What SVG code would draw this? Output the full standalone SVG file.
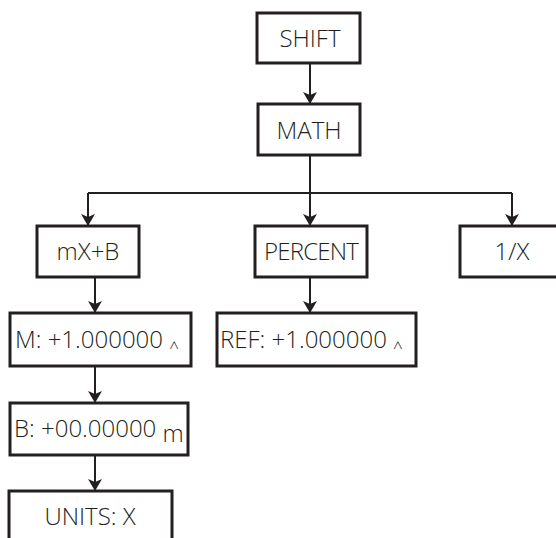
<svg xmlns="http://www.w3.org/2000/svg" width="556" height="538" viewBox="0 0 556 538">
<defs>
<style>
.box{fill:#fff;stroke:#231f20;stroke-width:3}
.t{font-family:"Open Sans","Noto Sans",sans-serif;font-size:24px;font-weight:300;fill:#231f20}
.c{text-anchor:middle}
.ln{fill:none;stroke:#231f20;stroke-width:2;marker-end:url(#ah)}
.pl{fill:none;stroke:#231f20;stroke-width:2}
.sm{font-size:17px}
</style>
<marker id="ah" markerUnits="userSpaceOnUse" markerWidth="12" markerHeight="14" viewBox="0 0 12 14" refX="11" refY="7" orient="auto">
<path d="M0,0 L12,7 L0,14 L3,7 z" fill="#231f20"/>
</marker>
</defs>
<rect width="556" height="538" fill="#fff"/>
<g id="connectors">
<line class="ln" x1="310" y1="63" x2="310" y2="103"/>
<polyline class="pl" points="310,155 310,193"/>
<polyline class="pl" points="88,193 512,193"/>
<polyline class="ln" points="88,193 88,225"/>
<polyline class="ln" points="310,193 310,225"/>
<polyline class="ln" points="512,193 512,225"/>
<line class="ln" x1="95" y1="277" x2="95" y2="312"/>
<line class="ln" x1="95" y1="366" x2="95" y2="402"/>
<line class="ln" x1="95" y1="455" x2="95" y2="490"/>
<line class="ln" x1="310" y1="277" x2="310" y2="312"/>
</g>
<g id="shift"><rect class="box" x="257" y="13" width="103" height="50"/><text class="t c" x="310" y="47">SHIFT</text></g>
<g id="math"><rect class="box" x="258" y="104" width="102" height="51"/><text class="t c" x="309" y="139">MATH</text></g>
<g id="mxb"><rect class="box" x="37" y="226" width="102" height="51"/><text class="t c" x="88" y="260">mX+B</text></g>
<g id="percent"><rect class="box" x="255" y="226" width="112" height="51"/><text class="t c" x="311" y="260" letter-spacing="-0.8">PERCENT</text></g>
<g id="inv"><rect class="box" x="460" y="226" width="110" height="51"/><text class="t c" x="512" y="260">1/X</text></g>
<g id="m"><rect class="box" x="10" y="313" width="181" height="53"/><text class="t" x="15" y="348">M: +1.000000 <tspan class="sm" dy="6">^</tspan></text></g>
<g id="ref"><rect class="box" x="217" y="313" width="199" height="53"/><text class="t" x="220" y="348">REF: +1.000000 <tspan class="sm" dy="6">^</tspan></text></g>
<g id="b"><rect class="box" x="10" y="403" width="178" height="52"/><text class="t" x="14" y="437">B: +00.00000 <tspan dy="5">m</tspan></text></g>
<g id="units"><rect class="box" x="9" y="491" width="163" height="60"/><text class="t c" x="90" y="525">UNITS: X</text></g>
</svg>
